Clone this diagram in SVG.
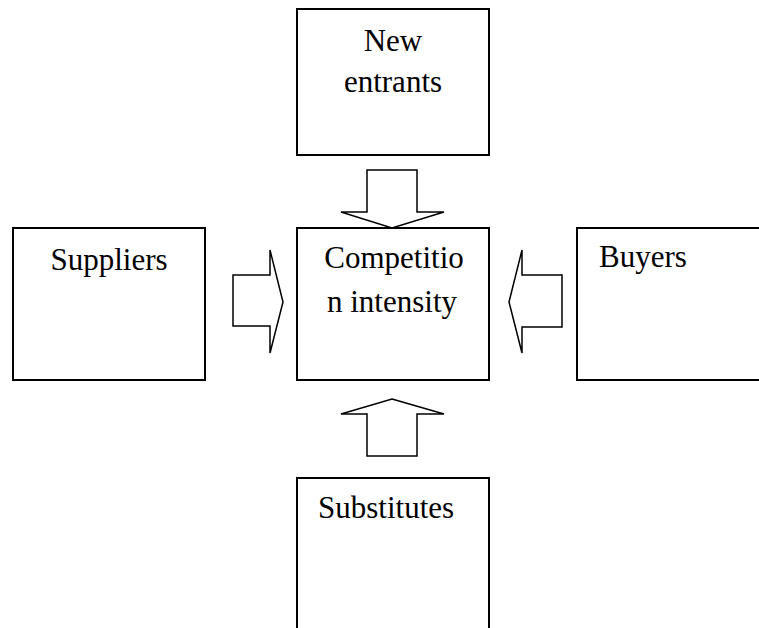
<svg xmlns="http://www.w3.org/2000/svg" width="759" height="628" viewBox="0 0 759 628">
<style>
.box{fill:#fff;stroke:#000;stroke-width:2}
.arr{fill:#fff;stroke:#000;stroke-width:1.5;stroke-linejoin:miter}
text{font-family:"Liberation Serif","Times New Roman",serif;font-size:31px;fill:#000}
</style>
<rect width="759" height="628" fill="#fff"/>
<g id="connectors">
<polygon class="arr" points="367,170 417,170 417,212 444,212 392,228 341,212 367,212"/>
<polygon class="arr" points="392,399 444,414 417,414 417,456 367,456 367,414 341,414"/>
<polygon class="arr" points="233,275 270,275 270,250 283,302 270,353 270,326 233,326"/>
<polygon class="arr" points="562,275 522,275 522,250 509,302 522,353 522,327 562,327"/>
</g>
<g id="new-entrants">
<rect class="box" x="297" y="9" width="192" height="146"/>
<text x="393" y="51" text-anchor="middle">New</text>
<text x="393" y="92" text-anchor="middle">entrants</text>
</g>
<g id="competition">
<rect class="box" x="297" y="228" width="192" height="152"/>
<text x="394" y="268" text-anchor="middle">Competitio</text>
<text x="392" y="312" text-anchor="middle">n intensity</text>
</g>
<g id="suppliers">
<rect class="box" x="13" y="228" width="192" height="152"/>
<text x="109" y="270" text-anchor="middle">Suppliers</text>
</g>
<g id="buyers">
<rect class="box" x="577" y="228" width="200" height="152"/>
<text x="599" y="267">Buyers</text>
</g>
<g id="substitutes">
<rect class="box" x="297" y="478" width="192" height="170"/>
<text x="318" y="518">Substitutes</text>
</g>
</svg>
